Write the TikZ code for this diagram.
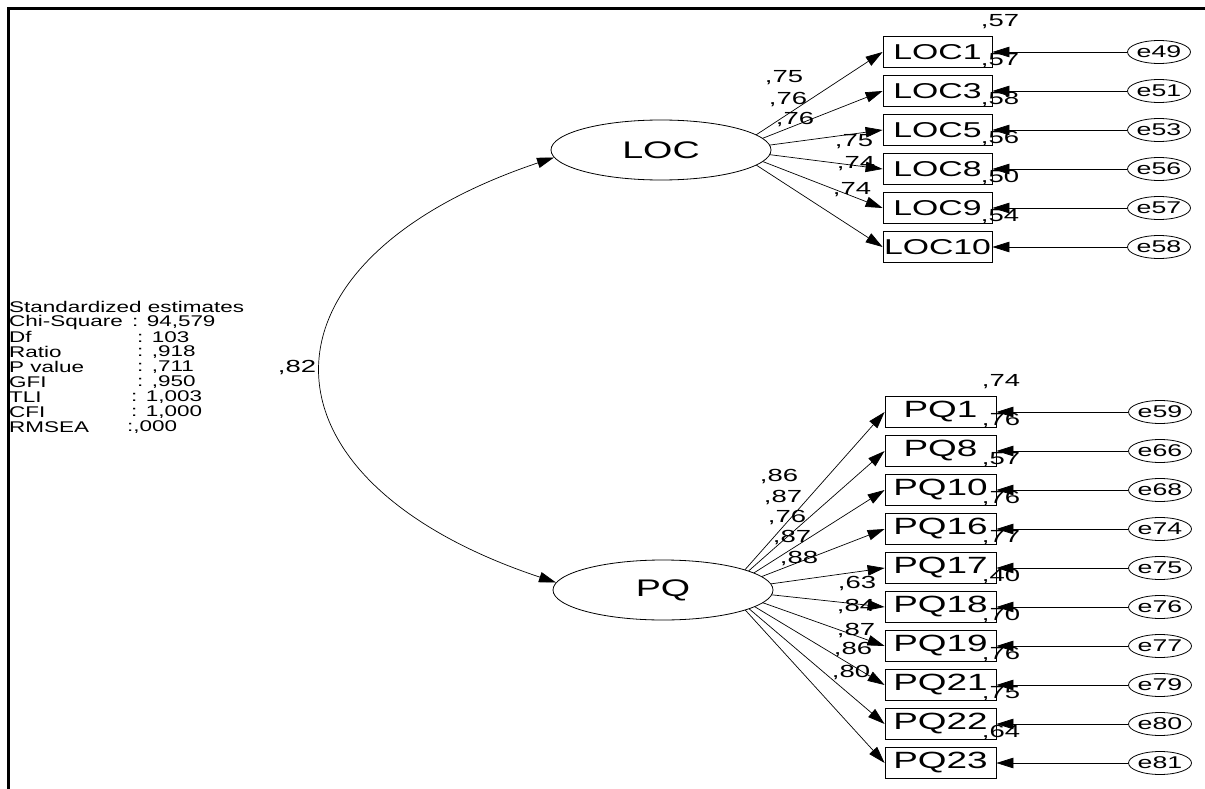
\documentclass[tikz,border=0pt]{standalone}
\usepackage{fontspec}
\setmainfont{Liberation Sans}
\usetikzlibrary{arrows.meta,shapes.geometric}
\pgfdeclarelayer{bg}
\pgfsetlayers{bg,main}
\newcommand\sx[1]{\scalebox{1.57}[1]{#1}}
\newcommand\sy[1]{\scalebox{1.45}[1]{#1}}
\begin{document}
\begin{tikzpicture}[x=1pt,y=-1pt,
  lat/.style={ellipse,draw,fill=white,line width=.8pt,minimum width=220pt,minimum height=60pt,inner sep=0pt,font=\fontsize{24}{24}\selectfont},
  obsL/.style={rectangle,draw,line width=.8pt,minimum width=109pt,minimum height=31pt,inner sep=0pt,font=\fontsize{21.5}{21.5}\selectfont},
  obsP/.style={rectangle,draw,line width=.8pt,minimum width=111pt,minimum height=31pt,inner sep=0pt,font=\fontsize{23.5}{23.5}\selectfont},
  err/.style={ellipse,draw,line width=.8pt,minimum width=56pt,minimum height=23pt,inner sep=0pt,font=\fontsize{17}{17}\selectfont},
  lbl/.style={inner sep=0pt,font=\fontsize{17.5}{17.5}\selectfont},
  stat/.style={inner sep=0pt,anchor=west,font=\fontsize{15.5}{15.5}\selectfont},
  tip/.style={Triangle[length=17pt,width=10.5pt]},
  arr/.style={line width=.7pt,-{Triangle[length=17pt,width=10.5pt]}},
  dbl/.style={line width=.7pt,{Triangle[length=17pt,width=10.5pt]}-{Triangle[length=17pt,width=10.5pt]}},
]
\useasboundingbox (0,0) rectangle (1205,789);
\draw[line width=2.5pt] (1205,8.5) -- (8.5,8.5) -- (8.5,789);

% latent variables (filled white, drawn over the start of the loading lines)
\node[lat] (LOC) at (661,150) {\sx{LOC}};
\node[lat] (PQ) at (663,590) {\sx{PQ}};
\coordinate (LOCsrc) at (733,150);
\coordinate (PQsrc) at (727,590);

% correlation
\draw[dbl] (LOC.184) .. controls (245,261) and (245,479) .. (PQ.176);
\node[lbl] (r82) at (297,368) {\sx{,82}};

% LOC indicators
\foreach \n/\y/\e/\r in {LOC1/52/e49/{,57},LOC3/91/e51/{,57},LOC5/130/e53/{,58},LOC8/169/e56/{,56},LOC9/208/e57/{,50},LOC10/247/e58/{,54}}{
  \node[obsL] (\n) at (937.5,\y) {\sx{\n}};
  \node[err] (\e) at (1159,\y) {\sx{\e}};
  \node[lbl] (r\n) at (1000,\y-30) {\sx{\r}};
  \begin{pgfonlayer}{bg}
    \draw[arr] (LOCsrc) -- (\n.west);
  \end{pgfonlayer}
  \draw[arr] (\e) -- (\n.east);
}
% PQ indicators
\foreach \n/\y/\e/\r in {PQ1/412/e59/{,74},PQ8/451/e66/{,76},PQ10/490/e68/{,57},PQ16/529/e74/{,76},PQ17/568/e75/{,77},PQ18/607/e76/{,40},PQ19/646/e77/{,70},PQ21/685/e79/{,76},PQ22/724/e80/{,75},PQ23/763/e81/{,64}}{
  \node[obsP] (\n) at (940.5,\y) {\sx{\n}};
  \node[err] (\e) at (1160,\y) {\sx{\e}};
  \node[lbl] (r\n) at (1001,\y-30) {\sx{\r}};
  \begin{pgfonlayer}{bg}
    \draw[arr] (PQsrc) -- (\n.west);
  \end{pgfonlayer}
  \draw[arr] (\e) -- (\n.east);
}

% loading labels LOC
\node[lbl] (wL1) at (784,78) {\sx{,75}};
\node[lbl] (wL3) at (788,100) {\sx{,76}};
\node[lbl] (wL5) at (795,120) {\sx{,76}};
\node[lbl] (wL8) at (854,142) {\sx{,75}};
\node[lbl] (wL9) at (856,164) {\sx{,74}};
\node[lbl] (wL10) at (852,190) {\sx{,74}};
% loading labels PQ
\node[lbl] (wP1) at (779,477) {\sx{,86}};
\node[lbl] (wP8) at (783,498) {\sx{,87}};
\node[lbl] (wP10) at (787,518) {\sx{,76}};
\node[lbl] (wP16) at (792,538) {\sx{,87}};
\node[lbl] (wP17) at (799,559) {\sx{,88}};
\node[lbl] (wP18) at (857,584) {\sx{,63}};
\node[lbl] (wP19) at (856,607) {\sx{,84}};
\node[lbl] (wP21) at (856,631) {\sx{,87}};
\node[lbl] (wP22) at (853,650) {\sx{,86}};
\node[lbl] (wP23) at (851,673) {\sx{,80}};

% fit statistics
\node[stat] (s0) at (9,307) {\sy{Standardized estimates}};
\node[stat] (s1) at (9,322) {\sy{Chi-Square}};
\node[stat] (v1) at (132,322) {\sy{: 94,579}};
\node[stat] (s2) at (9,337) {\sy{Df}};
\node[stat] (v2) at (137,337) {\sy{: 103}};
\node[stat] (s3) at (9,352) {\sy{Ratio}};
\node[stat] (v3) at (137,352) {\sy{: ,918}};
\node[stat] (s4) at (9,367) {\sy{P value}};
\node[stat] (v4) at (137,367) {\sy{: ,711}};
\node[stat] (s5) at (9,382) {\sy{GFI}};
\node[stat] (v5) at (137,382) {\sy{: ,950}};
\node[stat] (s6) at (9,397) {\sy{TLI}};
\node[stat] (v6) at (131,397) {\sy{: 1,003}};
\node[stat] (s7) at (9,412) {\sy{CFI}};
\node[stat] (v7) at (131,412) {\sy{: 1,000}};
\node[stat] (s8) at (9,427) {\sy{RMSEA}};
\node[stat] (v8) at (127,427) {\sy{:,000}};
\end{tikzpicture}
\end{document}
